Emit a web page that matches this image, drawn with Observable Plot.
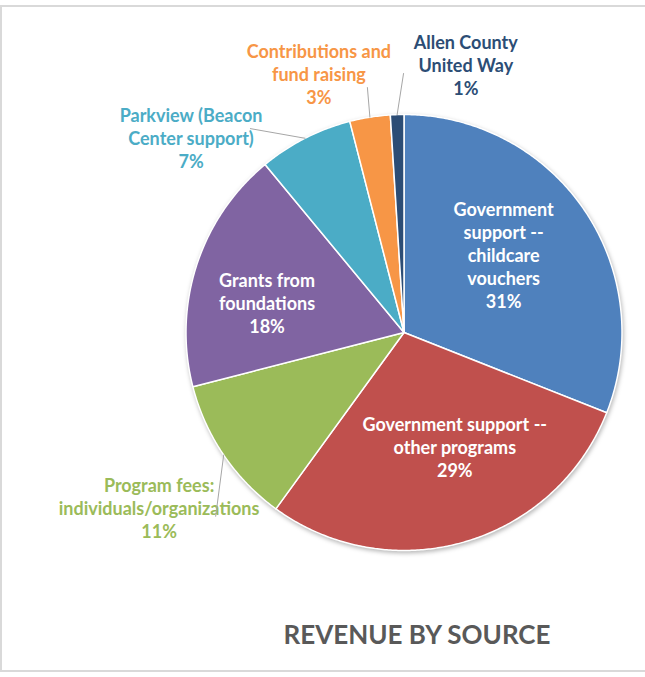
<!DOCTYPE html>
<html><head><meta charset="utf-8">
<script src="https://cdn.jsdelivr.net/npm/d3@7"></script>
<script src="https://cdn.jsdelivr.net/npm/@observablehq/plot@0.6"></script>
<style>
body{margin:0;background:#fff;width:645px;height:677px;overflow:hidden;position:relative;font-family:Lato,sans-serif}
#frame{position:absolute;left:0;top:5px;width:720px;height:667px;box-sizing:border-box;border:2px solid #d9d9d9}
#chart{position:absolute;left:0;top:0}
#title{position:absolute;left:217px;top:619px;width:400px;text-align:center;font:700 26px/30px Lato,sans-serif;color:#595959;white-space:nowrap}
</style></head><body>
<div id="frame"></div>
<div id="chart"></div>
<div id="title">REVENUE BY SOURCE</div>
<script>
// ---- data ----
const categories = [
  "Government\nsupport --\nchildcare\nvouchers",
  "Government support --\nother programs",
  "Program fees:\nindividuals/organizations",
  "Grants from\nfoundations",
  "Parkview (Beacon\nCenter support)",
  "Contributions and\nfund raising",
  "Allen County\nUnited Way"
];
const shares = [31, 29, 11, 18, 7, 3, 1];
const colors = ["#4F81BD", "#C0504D", "#9BBB59", "#8064A2", "#4BACC6", "#F79646", "#2C4D75"];

// ---- layout (label placement in polar units of the pie radius, degrees) ----
const labelPlace = [
  {rho: 0.58, ang: 52, inside: true},
  {rho: 0.573, ang: 156, inside: true},
  {rho: 1.38, ang: 234.5, inside: false, endRho: 1.207, endAng: 225.7},
  {rho: 0.643, ang: 282.3, inside: true},
  {rho: 1.325, ang: 312.5, inside: false, endRho: 1.171, endAng: 323.0},
  {rho: 1.25, ang: 341.8, inside: false, endRho: 1.136, endAng: 351.5},
  {rho: 1.26, ang: 13, inside: false, endRho: 1.188, endAng: 359.9}
];

const W = 645, H = 600, CX = 403.5, CY = 332, R = 218;
const deg = Math.PI / 180;
const arcs = d3.pie().sort(null).value(d => d)(shares);

const slicePts = [];
arcs.forEach((p, i) => {
  const n = Math.max(2, Math.ceil((p.endAngle - p.startAngle) / (0.5 * deg)));
  slicePts.push({k: i, a: 0, r: 0});
  for (let j = 0; j <= n; j++) {
    slicePts.push({k: i, a: p.startAngle + (p.endAngle - p.startAngle) * j / n, r: 1});
  }
  slicePts.push({k: i, a: 0, r: 0});
});

const labels = arcs.map((p, i) => ({
  k: i,
  a: labelPlace[i].ang * deg,
  r: labelPlace[i].rho,
  text: categories[i] + "\n" + shares[i] + "%",
  fill: labelPlace[i].inside ? "#ffffff" : colors[i]
}));

const leaders = [];
arcs.forEach((p, i) => {
  const L = labelPlace[i];
  if (L.inside) return;
  leaders.push({k: i, a: (p.startAngle + p.endAngle) / 2, r: 1});
  leaders.push({k: i, a: L.endAng * deg, r: L.endRho});
});

const px = d => d.r * Math.sin(d.a);
const py = d => d.r * Math.cos(d.a);

const chart = Plot.plot({
  width: W, height: H, margin: 0,
  x: {domain: [-CX / R, (W - CX) / R], axis: null},
  y: {domain: [(CY - H) / R, CY / R], axis: null},
  color: {type: "identity"},
  style: {background: "transparent", overflow: "visible"},
  marks: [
    Plot.line(slicePts, {x: px, y: py, z: "k", fill: d => colors[d.k], stroke: "#ffffff", strokeWidth: 1.5, strokeLinejoin: "round"}),
    Plot.text(labels, {x: px, y: py, text: "text", fill: "fill", fontSize: 18, fontWeight: 700, lineHeight: 1.28, fontFamily: "Lato, sans-serif"}),
    Plot.line(leaders, {x: px, y: py, z: "k", stroke: "#a6a6a6", strokeWidth: 1})
  ]
});
const g = chart.querySelector('g[aria-label="line"]');
if (g) g.style.filter = "drop-shadow(1px 2px 2px rgba(0,0,0,0.28))";
document.getElementById("chart").appendChild(chart);
</script>
</body></html>
